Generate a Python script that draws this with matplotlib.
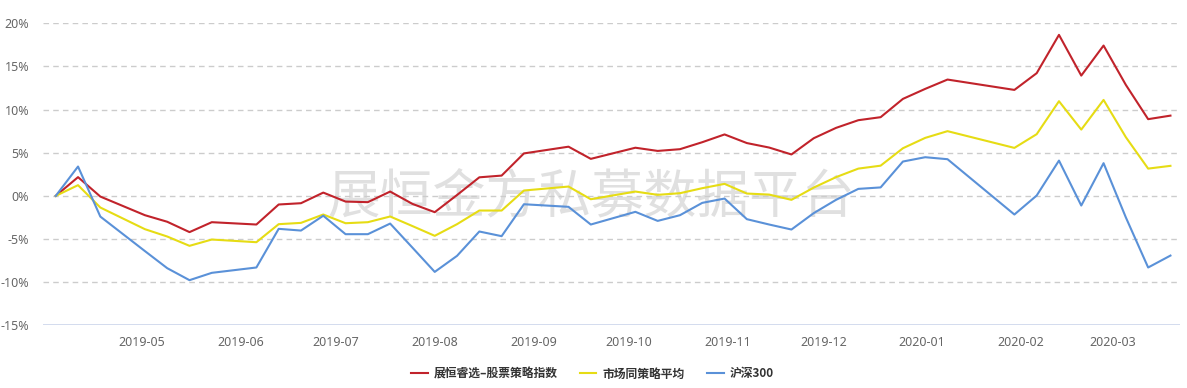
import matplotlib
matplotlib.use('Agg')
import matplotlib.pyplot as plt
import matplotlib.dates as mdates
from matplotlib.ticker import FixedLocator
import numpy as np
import datetime as dt

plt.rcParams['font.family'] = ['Noto Sans CJK SC', 'DejaVu Sans']

# weekly dates (week offsets from 2019-04-04)
week_idx = [0, 1, 2, 4, 5, 6, 7, 9, 10, 11, 12, 13, 14, 15, 16, 17, 18, 19, 20, 21,
            23, 24, 26, 27, 28, 29, 30, 31, 32, 33, 34, 35, 36, 37, 38, 39, 40,
            43, 44, 45, 46, 47, 48, 49, 50]
start = dt.date(2019, 4, 4)
dates = [start + dt.timedelta(weeks=w) for w in week_idx]

strategy = [0, 2.17, -0.08, -2.24, -3.0, -4.2, -3.05, -3.32, -1.0, -0.85, 0.38,
            -0.66, -0.73, 0.5, -0.93, -1.89, 0.1, 2.15, 2.35, 4.92,
            5.7, 4.29, 5.58, 5.21, 5.41, 6.22, 7.12, 6.12, 5.6, 4.8, 6.68, 7.88,
            8.77, 9.12, 11.24, 12.4, 13.48,
            12.28, 14.22, 18.66, 13.94, 17.42, 12.86, 8.89, 9.3]
peer_avg = [0, 1.24, -1.35, -3.86, -4.71, -5.79, -5.06, -5.37, -3.28, -3.13, -2.16,
            -3.17, -3.05, -2.39, -3.5, -4.63, -3.28, -1.7, -1.7, 0.62,
            1.08, -0.39, 0.5, 0.12, 0.31, 0.89, 1.39, 0.27, 0.15, -0.46, 0.96, 2.17,
            3.16, 3.5, 5.52, 6.72, 7.5,
            5.56, 7.15, 10.97, 7.68, 11.12, 6.8, 3.16, 3.48]
hs300 = [0, 3.4, -2.4, -6.4, -8.38, -9.77, -8.92, -8.3, -3.82, -4.02, -2.3,
         -4.44, -4.44, -3.21, -6.0, -8.81, -6.95, -4.13, -4.67, -0.97,
         -1.27, -3.32, -1.85, -2.9, -2.24, -0.81, -0.31, -2.7, -3.32, -3.9, -2.0, -0.46,
         0.81, 0.98, 3.98, 4.48, 4.25,
         -2.16, 0.04, 4.09, -1.12, 3.79, -2.5, -8.3, -6.92]

series_names = ['展恒睿选–股票策略指数', '市场同策略平均', '沪深300']
colors = ['#c1232b', '#e6dc14', '#5a91d8']
y_ticks = [-15, -10, -5, 0, 5, 10, 15, 20]
month_ticks = [dt.date(2019, m, 1) for m in range(5, 13)] + [dt.date(2020, m, 1) for m in range(1, 4)]

fig = plt.figure(figsize=(11.87, 3.88), dpi=100)
ax = fig.add_axes([43 / 1187, 1 - 325.3 / 388, (1180 - 43) / 1187, (325.3 - 23.3) / 388])

for vals, name, c in zip([strategy, peer_avg, hs300], series_names, colors):
    ax.plot(dates, vals, color=c, lw=1.5, label=name, zorder=3)

ax.set_ylim(-15, 20)
ax.set_xlim(dt.date(2019, 3, 31) + dt.timedelta(hours=6), dt.date(2020, 3, 22))
ax.yaxis.set_major_locator(FixedLocator(y_ticks))
ax.set_yticklabels([f'{v}%' for v in y_ticks])
ax.xaxis.set_major_locator(FixedLocator(mdates.date2num(month_ticks)))
ax.xaxis.set_major_formatter(mdates.DateFormatter('%Y-%m'))

for v in y_ticks[1:]:
    ax.axhline(v, color='#cccccc', lw=1, ls=(0, (4, 3)), zorder=1)
ax.axhline(-15, color='#ccd6eb', lw=1.2, zorder=2)

for s in ax.spines.values():
    s.set_visible(False)
ax.tick_params(axis='both', length=0, labelsize=9, colors='#666666')
ax.tick_params(axis='x', pad=8)
ax.tick_params(axis='y', pad=10)
for lbl in ax.get_xticklabels() + ax.get_yticklabels():
    lbl.set_family(['Noto Sans', 'DejaVu Sans'])

# watermark
ax.text(0.482, 0.425, '展恒金方私募数据平台', transform=ax.transAxes, fontsize=38,
        color='#e0e0e0', ha='center', va='center', zorder=0, fontweight='light')

leg = fig.legend(loc='center', bbox_to_anchor=(0.499, 1 - 374 / 388), ncol=3, frameon=False,
                 fontsize=8.5, handlelength=1.4, handletextpad=0.5, columnspacing=1.9)
for t in leg.get_texts():
    t.set_color('#333333')
    t.set_fontweight('bold')

fig.savefig('out.png', dpi=100)
